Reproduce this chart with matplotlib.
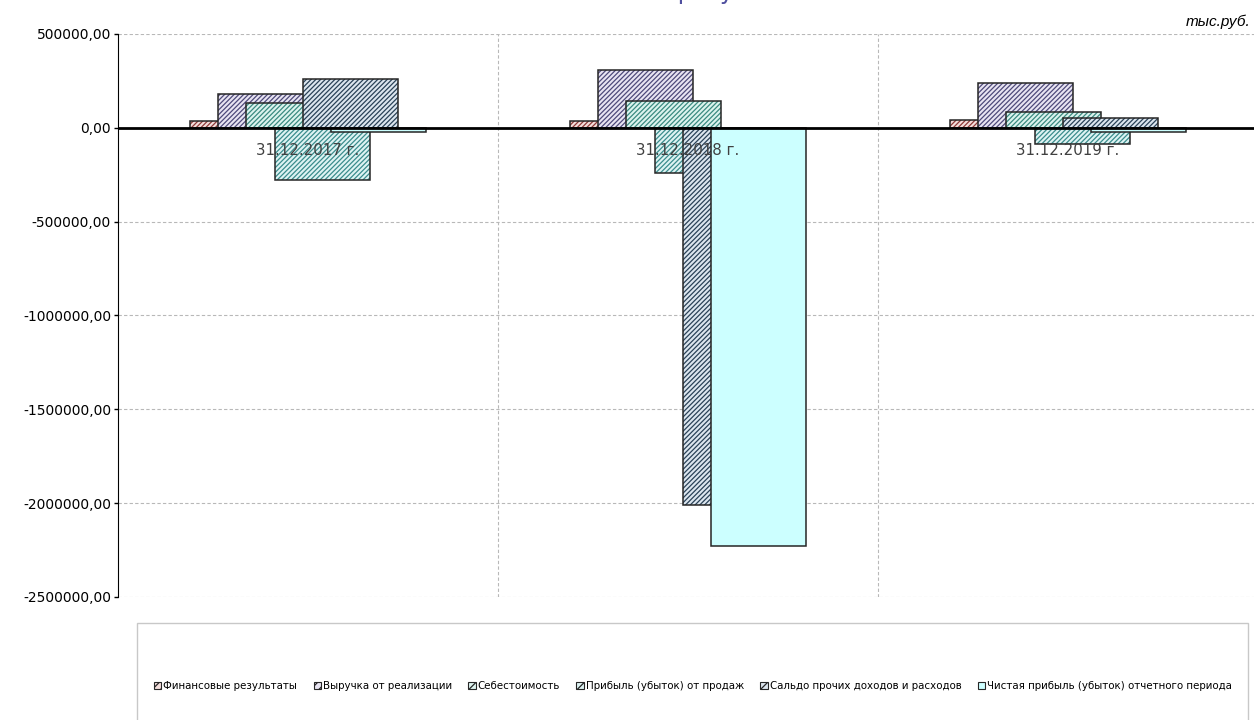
import matplotlib
matplotlib.use("Agg")
import matplotlib.pyplot as plt
from matplotlib.patches import Patch, Rectangle
from matplotlib.ticker import FuncFormatter
import numpy as np

plt.rcParams['font.family'] = ['DejaVu Sans']
plt.rcParams['hatch.linewidth'] = 0.9

categories = ["31.12.2017 г.", "31.12.2018 г.", "31.12.2019 г."]
series_names = ["Финансовые результаты", "Выручка от реализации", "Себестоимость",
                "Прибыль (убыток) от продаж", "Сальдо прочих доходов и расходов",
                "Чистая прибыль (убыток) отчетного периода"]
fin_results = [37000, 37000, 42000]
revenue = [181000, 308000, 239000]
cost = [133000, 144000, 85000]
sales_profit = [-277000, -240000, -85000]
other_balance = [261000, -2010000, 53000]
net_profit = [-21000, -2229000, -21000]
values = [fin_results, revenue, cost, sales_profit, other_balance, net_profit]

faces = ["#f4dedc", "#e8e4f2", "#dcf3ee", "#def3f3", "#dce6ef", "#ccffff"]
hatch_colors = ["#8f3a38", "#4e4a7a", "#3a8a80", "#3a8c8c", "#2a4258", None]
hatches = ["///////", "///////", "///////", "///////", "///////", None]
edge = "#262626"

fig = plt.figure(figsize=(12.54, 7.2), dpi=100)
W, H = 1254, 720
ax = fig.add_axes([118 / W, (H - 597) / H, 1140 / W, (597 - 34) / H])

x = np.arange(len(categories))
bw = 0.25
step = 0.0747
for i, vals in enumerate(values):
    pos = x + (i - 2.5) * step
    z = 3 + i * 2
    if hatches[i]:
        ax.bar(pos, vals, width=bw, color=faces[i], hatch=hatches[i],
               edgecolor=hatch_colors[i], linewidth=0, zorder=z)
        ax.bar(pos, vals, width=bw, fill=False, edgecolor=edge, linewidth=1.1, zorder=z + 0.5)
    else:
        ax.bar(pos, vals, width=bw, color=faces[i], edgecolor=edge, linewidth=1.1, zorder=z + 0.5)

ax.set_xlim(-0.5, 2.5)
ax.set_ylim(-2500000, 500000)
ax.set_yticks(np.arange(-2500000, 500001, 500000))
ax.yaxis.set_major_formatter(FuncFormatter(lambda v, p: f"{v:.2f}".replace(".", ",")))
ax.tick_params(axis='y', labelsize=10, colors='#000000', length=3, pad=2, direction='out', width=1)
ax.tick_params(axis='x', bottom=False, labelbottom=False)
ax.grid(axis='y', color='#b8b8b8', linestyle=(0, (3, 2)), linewidth=0.8, zorder=0)
for b in [0.5, 1.5]:
    ax.axvline(b, color='#b8b8b8', linestyle=(0, (3, 2)), linewidth=0.8, zorder=0)
for s in ['top', 'right', 'bottom']:
    ax.spines[s].set_visible(False)
ax.spines['left'].set_color('#000000')
ax.axhline(0, color='#000000', linewidth=2, zorder=20)

for xi, c in zip(x, categories):
    ax.annotate(c, (xi, 0), xytext=(0, -23), textcoords='offset pixels',
                ha='center', va='center', fontsize=10.8, color='#404040', zorder=30)

fig.text(1250 / W, 1 - 22 / H, "тыс.руб.", ha='right', va='center', fontsize=11,
         style='italic', family=['Liberation Sans'], color='#000000')
fig.text(669 / W, 1 + 1 / H, "Финансовые результаты", ha='center', va='baseline',
         fontsize=17, color='#4f4f9f')

fig.patches.append(Rectangle((137 / W, -0.01), (1248 - 137) / W, (720 - 623) / H + 0.01,
                             transform=fig.transFigure, fill=False,
                             edgecolor='#c8c8c8', linewidth=1))
handles = []
for i in range(6):
    if hatches[i]:
        handles.append(Patch(facecolor=faces[i], hatch='////', edgecolor=edge, linewidth=0.8))
    else:
        handles.append(Patch(facecolor=faces[i], edgecolor=edge, linewidth=0.8))
fig.legend(handles, series_names, loc='center', bbox_to_anchor=(693 / W, 1 - 686 / H),
           ncol=6, frameon=False, fontsize=7.4, handlelength=0.7, handleheight=0.7,
           handletextpad=0.2, columnspacing=1.6, borderaxespad=0)

fig.savefig("out.png", dpi=100)
